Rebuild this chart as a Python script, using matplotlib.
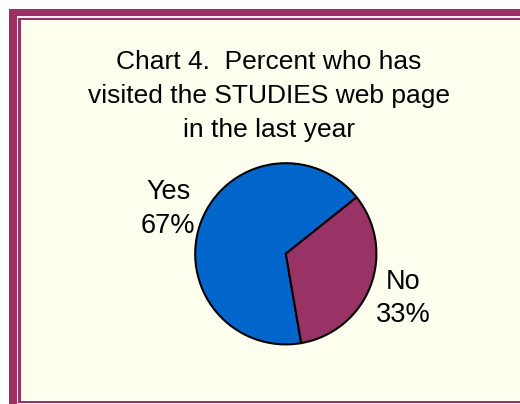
import matplotlib
matplotlib.use("Agg")
import matplotlib.pyplot as plt
from matplotlib.patches import Rectangle

# data
categories = ["Yes", "No"]
percents = [67, 33]
slice_colors = ["#0066CC", "#993366"]
title = "Chart 4.  Percent who has\nvisited the STUDIES web page\nin the last year"

plt.rcParams['font.family'] = ['Liberation Sans', 'DejaVu Sans']

W, H = 520, 404
fig = plt.figure(figsize=(W / 100, H / 100), dpi=100)
fig.patch.set_facecolor("white")

# frame drawn in pixel coordinates
bg = fig.add_axes([0, 0, 1, 1])
bg.set_xlim(0, W)
bg.set_ylim(H, 0)
bg.axis("off")
maroon = "#993366"
bg.add_patch(Rectangle((9, 9), 600, 600, color=maroon, lw=0))
bg.add_patch(Rectangle((16.6, 15.8), 600, 600, color="#F7EEF0", lw=0))
bg.add_patch(Rectangle((18.3, 17.8), 600, 385.2, color=maroon, lw=0))
bg.add_patch(Rectangle((20.6, 20.4), 600, 380.6, color="#FFFFEF", lw=0))

# title (baseline of last line placed)
fig.text(269 / W, 1 - 137.3 / H, title, ha="center", va="baseline", fontsize=19,
         linespacing=1.54, color="black")

# pie
cx, cy, r = 285.8, 253.8, 91.5
ax = fig.add_axes([(cx - r) / W, (H - cy - r) / H, 2 * r / W, 2 * r / H])
labels = [f"{c}\n{p}%" for c, p in zip(categories, percents)]
ax.pie(percents, labels=labels, colors=slice_colors, startangle=38.6,
       counterclock=True, labeldistance=1.39,
       wedgeprops=dict(edgecolor="black", linewidth=1.5),
       textprops=dict(fontsize=19.5, ha="center", va="center",
                      multialignment="center", linespacing=1.36))
ax.set_xlim(-1.01, 1.01)
ax.set_ylim(-1.01, 1.01)
ax.set_aspect("equal")

fig.savefig("out.png", dpi=100, facecolor=fig.get_facecolor())
